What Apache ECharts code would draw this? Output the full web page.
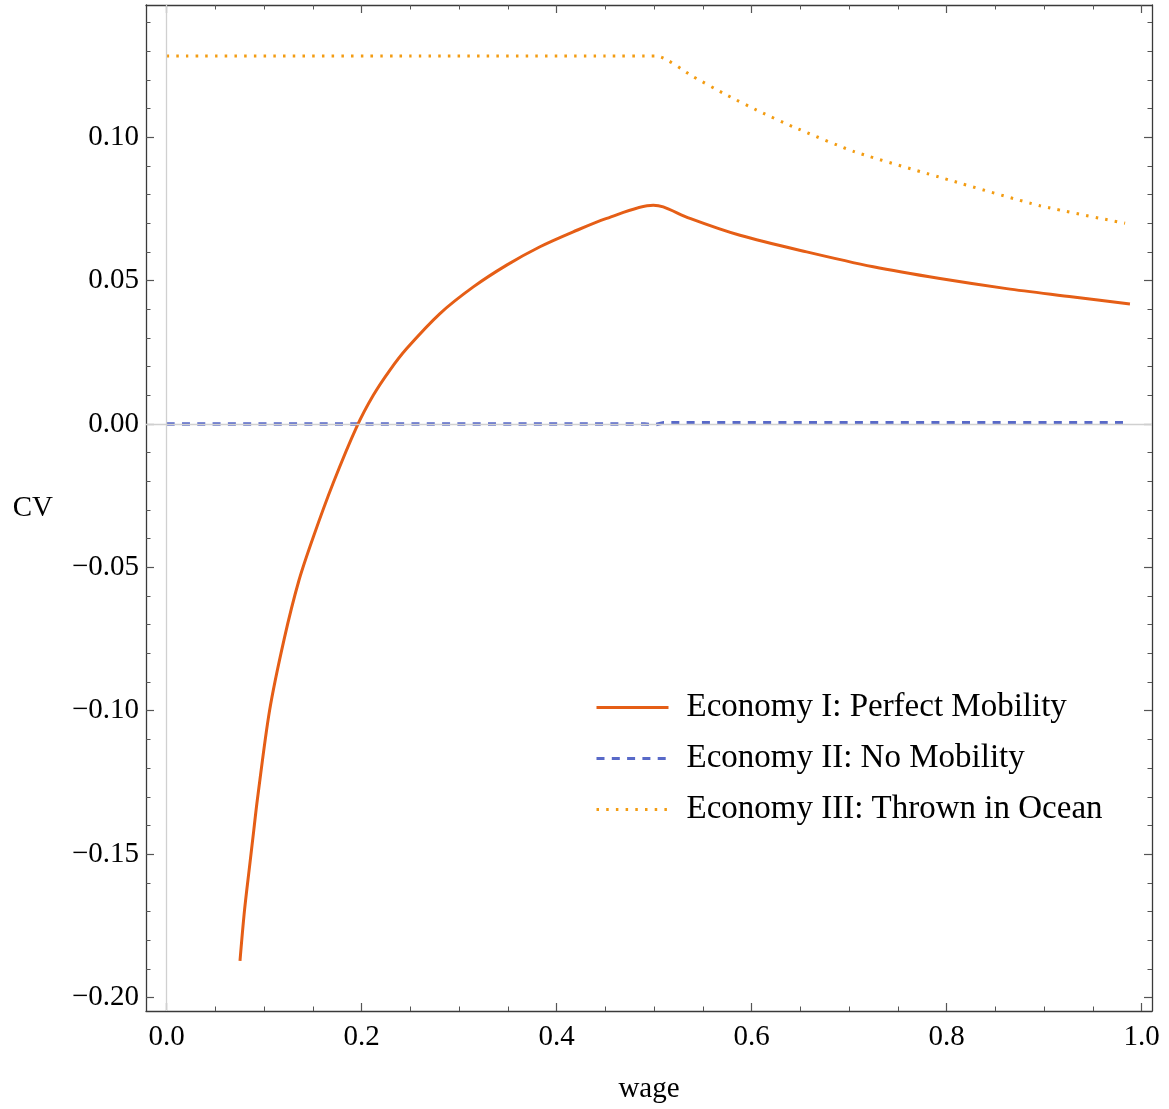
<!DOCTYPE html>
<html>
<head>
<meta charset="utf-8">
<script src="https://cdn.jsdelivr.net/npm/echarts@6/dist/echarts.min.js"></script>
<style>
  html, body { margin: 0; padding: 0; background: #fff; }
  #main { width: 1169px; height: 1109px; }
</style>
</head>
<body>
<div id="main"></div>
<script>
// data
const econ1Wage = [0.0752, 0.0798, 0.0849, 0.0893, 0.0929, 0.1055, 0.1205, 0.1357, 0.1504, 0.1709, 0.1949, 0.2119, 0.229, 0.2462, 0.2803, 0.3145, 0.3487, 0.3829, 0.417, 0.4513, 0.4991, 0.5093, 0.5367, 0.588, 0.6564, 0.7247, 0.7931, 0.8615, 0.9299, 0.988]
const econ1CV = [-0.1872, -0.1697, -0.1546, -0.1418, -0.1313, -0.1, -0.075, -0.0545, -0.0394, -0.0205, -0.001, 0.01, 0.0188, 0.0263, 0.0385, 0.0478, 0.0554, 0.0618, 0.067, 0.0717, 0.0763, 0.0757, 0.0717, 0.0658, 0.06, 0.0548, 0.0507, 0.0472, 0.0443, 0.0418]

const econ2Wage = [0, 0.25, 0.49, 0.5, 0.51, 0.75, 0.988]
const econ2CV = [0, 0, 0, -0.0003, 0.0004, 0.0004, 0.0004]

const econ3Wage = [0, 0.25, 0.45, 0.5026, 0.5401, 0.5744, 0.6085, 0.6427, 0.7059, 0.8034, 0.8957, 0.983]
const econ3CV = [0.1283, 0.1283, 0.1283, 0.1283, 0.1211, 0.1147, 0.1089, 0.1036, 0.0949, 0.085, 0.0761, 0.0700]

const seriesNames = ['Economy I: Perfect Mobility', 'Economy II: No Mobility', 'Economy III: Thrown in Ocean']
const xTickLabels = [0, 0.2, 0.4, 0.6, 0.8, 1.0]
const yTickLabels = [-0.2, -0.15, -0.1, -0.05, 0, 0.05, 0.1]

const pairs = (xs, ys) => xs.map((x, i) => [x, ys[i]])

// minor ticks
const xMinor = []
for (let i = 0; i <= 20; i++) xMinor.push(+(i * 0.05).toFixed(2))
const yMinor = []
for (let i = -20; i <= 14; i++) yMinor.push(+(i * 0.01).toFixed(2))

const X_MIN = -0.0212, X_MAX = 1.0106
const Y_MIN = -0.2047, Y_MAX = 0.1461
const FONT = "'Liberation Serif', 'Times New Roman', serif"
const frameColor = '#3a3a3a'
const tickColor = '#555'

const gridBox = { left: 146, right: 17, top: 5, bottom: 98 }

const majorX = (pos, labels) => ({
	type: 'value', gridIndex: 0, position: pos, min: X_MIN, max: X_MAX,
	axisLine: { show: true, onZero: false, lineStyle: { color: frameColor, width: 1.3 } },
	axisTick: { show: true, inside: true, length: 8, customValues: xTickLabels, lineStyle: { color: tickColor, width: 1.2 } },
	axisLabel: labels ? {
		show: true, customValues: xTickLabels, margin: 12, color: '#000', fontFamily: FONT, fontSize: 29,
		formatter: v => v.toFixed(1)
	} : { show: false },
	splitLine: { show: false }
})
const majorY = (pos, labels) => ({
	type: 'value', gridIndex: 0, position: pos, min: Y_MIN, max: Y_MAX,
	axisLine: { show: true, onZero: false, lineStyle: { color: frameColor, width: 1.3 } },
	axisTick: { show: true, inside: true, length: 8, customValues: yTickLabels, lineStyle: { color: tickColor, width: 1.2 } },
	axisLabel: labels ? {
		show: true, customValues: yTickLabels, margin: 7, color: '#000', fontFamily: FONT, fontSize: 29,
		formatter: v => v.toFixed(2).replace('-', '\u2212')
	} : { show: false },
	splitLine: { show: false }
})
const minorX = pos => ({
	type: 'value', gridIndex: 1, position: pos, min: X_MIN, max: X_MAX,
	axisLine: { show: false, onZero: false },
	axisTick: { show: true, inside: true, length: 4.5, customValues: xMinor, lineStyle: { color: tickColor, width: 1 } },
	axisLabel: { show: false }, splitLine: { show: false }
})
const minorY = pos => ({
	type: 'value', gridIndex: 1, position: pos, min: Y_MIN, max: Y_MAX,
	axisLine: { show: false, onZero: false },
	axisTick: { show: true, inside: true, length: 4.5, customValues: yMinor, lineStyle: { color: tickColor, width: 1 } },
	axisLabel: { show: false }, splitLine: { show: false }
})

const xBottom = majorX('bottom', true)
xBottom.name = 'wage'
xBottom.nameLocation = 'middle'
xBottom.nameGap = 64
xBottom.nameTextStyle = { color: '#000', fontFamily: FONT, fontSize: 29 }

const yLeft = majorY('left', true)
yLeft.name = 'CV'
yLeft.nameLocation = 'middle'
yLeft.nameRotate = 0
yLeft.nameGap = 93
yLeft.nameTextStyle = { color: '#000', fontFamily: FONT, fontSize: 29 }

const option = {
	animation: false,
	backgroundColor: '#fff',
	grid: [Object.assign({}, gridBox), Object.assign({}, gridBox)],
	xAxis: [xBottom, majorX('top', false), minorX('bottom'), minorX('top')],
	yAxis: [yLeft, majorY('right', false), minorY('left'), minorY('right')],
	legend: {
		data: seriesNames,
		orient: 'vertical',
		left: 595,
		top: 691,
		padding: 0,
		itemWidth: 72,
		itemHeight: 33,
		itemGap: 18,
		itemStyle: { opacity: 0, color: 'rgba(0,0,0,0)', borderWidth: 0 },
		lineStyle: { width: 3 },
		textStyle: { color: '#000', fontFamily: FONT, fontSize: 33, lineHeight: 33, padding: [0, 0, 0, 13] }
	},
	series: [
		{
			// gray axes through the origin
			name: 'axes', type: 'line', data: [], xAxisIndex: 0, yAxisIndex: 0, z: 1, silent: true,
			markLine: {
				silent: true, symbol: 'none', label: { show: false },
				lineStyle: { color: '#d0d0d0', width: 1.3, type: 'solid' },
				data: [{ xAxis: 0 }, { yAxis: 0 }]
			}
		},
		{
			name: seriesNames[0], type: 'line', data: pairs(econ1Wage, econ1CV),
			symbol: 'none', showSymbol: false, smooth: 0.3, z: 4,
			lineStyle: { color: '#E55E16', width: 3, type: 'solid' },
			itemStyle: { color: '#E55E16' }
		},
		{
			name: seriesNames[1], type: 'line', data: pairs(econ2Wage, econ2CV),
			symbol: 'none', showSymbol: false, z: 3,
			lineStyle: { color: '#5869C8', width: 3.5, type: [8, 7.3] },
			itemStyle: { color: '#5869C8' }
		},
		{
			name: seriesNames[2], type: 'line', data: pairs(econ3Wage, econ3CV),
			symbol: 'none', showSymbol: false, smooth: 0.2, z: 3,
			lineStyle: { color: '#F39C12', width: 3, type: [2.5, 7.2], cap: 'butt' },
			itemStyle: { color: '#F39C12' }
		}
	]
}

const myChart = echarts.init(document.getElementById('main'))
myChart.setOption(option)
</script>
</body>
</html>
